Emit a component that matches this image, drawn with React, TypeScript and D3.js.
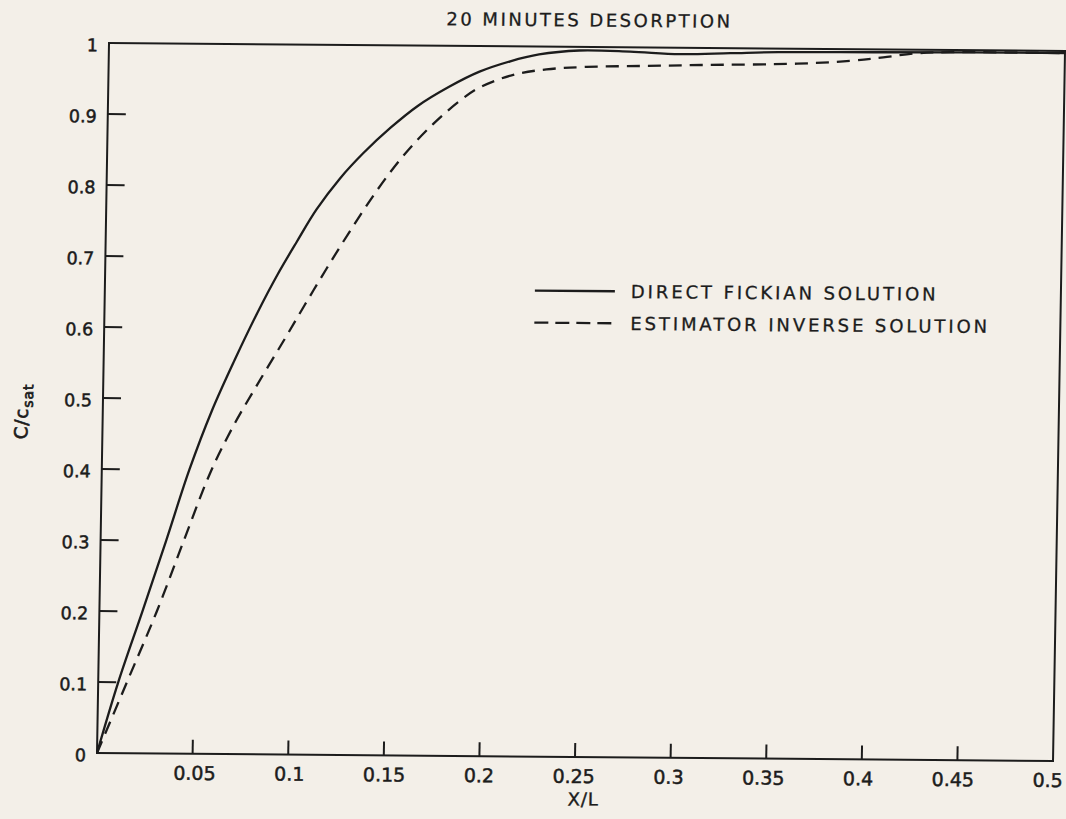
import React, { useRef, useEffect } from "react";
import * as d3 from "d3";

// chart values
const title = "20 MINUTES DESORPTION";
const xTickValues = [0.05, 0.1, 0.15, 0.2, 0.25, 0.3, 0.35, 0.4, 0.45, 0.5];
const xTickLabels = ["0.05", "0.1", "0.15", "0.2", "0.25", "0.3", "0.35", "0.4", "0.45", "0.5"];
const yTickValues = [0, 0.1, 0.2, 0.3, 0.4, 0.5, 0.6, 0.7, 0.8, 0.9, 1];
const yTickLabels = ["0", "0.1", "0.2", "0.3", "0.4", "0.5", "0.6", "0.7", "0.8", "0.9", "1"];

// direct fickian solution
const fickX = [0, 0.0105, 0.0225, 0.0343, 0.0458, 0.057, 0.0685, 0.08, 0.09, 0.0999, 0.11, 0.122, 0.134, 0.148, 0.162, 0.178, 0.194, 0.21, 0.225, 0.246, 0.2725, 0.2986, 0.325, 0.35, 0.4, 0.45, 0.5];
const fickY = [0, 0.1, 0.2, 0.3, 0.4, 0.483, 0.555, 0.622, 0.675, 0.722, 0.768, 0.812, 0.848, 0.884, 0.915, 0.942, 0.964, 0.979, 0.989, 0.995, 0.994, 0.991, 0.993, 0.995, 0.996, 0.997, 0.997];

// estimator inverse solution
const estX = [0, 0.015, 0.03, 0.0435, 0.0566, 0.068, 0.08, 0.0938, 0.1048, 0.1158, 0.1277, 0.1413, 0.155, 0.1703, 0.185, 0.1944, 0.2117, 0.229, 0.25, 0.28, 0.31, 0.36, 0.3876, 0.405, 0.4226, 0.44, 0.5];
const estY = [0, 0.1, 0.2, 0.3, 0.395, 0.46, 0.518, 0.582, 0.634, 0.685, 0.738, 0.795, 0.845, 0.89, 0.925, 0.942, 0.96, 0.968, 0.972, 0.974, 0.976, 0.979, 0.9835, 0.989, 0.995, 0.997, 0.997];

const legendLabels = ["DIRECT FICKIAN SOLUTION", "ESTIMATOR INVERSE SOLUTION"];

const App = () => {
  const ref = useRef(null);

  useEffect(() => {
    const svg = d3.select(ref.current);
    svg.selectAll("*").remove();

    const ink = "#1c1c1c";
    const font = "'DejaVu Sans', sans-serif";

    svg.append("rect").attr("width", 1066).attr("height", 819).attr("fill", "#f3efe8");

    // the scan is slightly sheared, so the whole drawing sits in a skewed group
    const g = svg.append("g").attr("transform", "matrix(1,0.00837,-0.0169,1,12.73,-0.81)");

    const x = d3.scaleLinear().domain([0, 0.5]).range([97, 1053]);
    const y = d3.scaleLinear().domain([0, 1]).range([753, 43]);

    // frame
    g.append("rect")
      .attr("x", x(0))
      .attr("y", y(1))
      .attr("width", x(0.5) - x(0))
      .attr("height", y(0) - y(1))
      .attr("fill", "none")
      .attr("stroke", ink)
      .attr("stroke-width", 2);

    // inward ticks
    g.selectAll(".yt")
      .data(yTickValues.filter((d) => d > 0 && d < 1))
      .enter()
      .append("line")
      .attr("x1", x(0))
      .attr("x2", x(0) + 18)
      .attr("y1", (d) => y(d))
      .attr("y2", (d) => y(d))
      .attr("stroke", ink)
      .attr("stroke-width", 2);

    g.selectAll(".xt")
      .data(xTickValues.filter((d) => d < 0.5))
      .enter()
      .append("line")
      .attr("x1", (d) => x(d))
      .attr("x2", (d) => x(d))
      .attr("y1", y(0))
      .attr("y2", y(0) - 14)
      .attr("stroke", ink)
      .attr("stroke-width", 2);

    // tick labels (slightly heavier, like the typed originals)
    g.selectAll(".yl")
      .data(yTickValues)
      .enter()
      .append("text")
      .attr("x", x(0) - 11)
      .attr("y", (d) => y(d) + 8.5)
      .attr("text-anchor", "end")
      .attr("font-family", font)
      .attr("font-size", 17.5)
      .attr("fill", ink)
      .attr("stroke", ink)
      .attr("stroke-width", 0.5)
      .text((d, i) => yTickLabels[i]);

    g.selectAll(".xl")
      .data(xTickValues)
      .enter()
      .append("text")
      .attr("x", (d) => x(d) + 3 - 16 * d)
      .attr("y", y(0) + 26)
      .attr("text-anchor", "middle")
      .attr("font-family", font)
      .attr("font-size", 19)
      .attr("fill", ink)
      .attr("stroke", ink)
      .attr("stroke-width", 0.5)
      .text((d, i) => xTickLabels[i]);

    // title and axis names
    g.append("text")
      .attr("x", 577)
      .attr("y", 22.5)
      .attr("text-anchor", "middle")
      .attr("font-family", font)
      .attr("font-size", 18)
      .attr("letter-spacing", 2.5)
      .attr("fill", ink)
      .attr("stroke", ink)
      .attr("stroke-width", 0.3)
      .text(title);

    g.append("text")
      .attr("x", 584)
      .attr("y", 801.5)
      .attr("text-anchor", "middle")
      .attr("font-family", font)
      .attr("font-size", 18)
      .attr("letter-spacing", 1)
      .attr("fill", ink)
      .attr("stroke", ink)
      .attr("stroke-width", 0.4)
      .text("X/L");

    const yName = g
      .append("text")
      .attr("transform", "translate(22,412) rotate(-90)")
      .attr("text-anchor", "middle")
      .attr("font-family", font)
      .attr("font-size", 18)
      .attr("fill", ink)
      .attr("stroke", ink)
      .attr("stroke-width", 0.7)
      .attr("letter-spacing", 1);
    yName.append("tspan").text("C/c");
    yName.append("tspan").attr("font-size", 14).attr("dy", 5).text("sat");

    // curves
    const line = d3
      .line<[number, number]>()
      .x((d) => x(d[0]))
      .y((d) => y(d[1]))
      .curve(d3.curveCatmullRom.alpha(0.5));

    const fick = fickX.map((v, i) => [v, fickY[i]] as [number, number]);
    const est = estX.map((v, i) => [v, estY[i]] as [number, number]);

    g.append("path")
      .attr("d", line(fick))
      .attr("fill", "none")
      .attr("stroke", ink)
      .attr("stroke-width", 2.3);

    g.append("path")
      .attr("d", line(est))
      .attr("fill", "none")
      .attr("stroke", ink)
      .attr("stroke-width", 2.3)
      .attr("stroke-dasharray", "13,8");

    // legend
    const legend = g.append("g");
    legendLabels.forEach((label, i) => {
      const ly = 287 + i * 32;
      legend
        .append("line")
        .attr("x1", 527)
        .attr("x2", 607)
        .attr("y1", ly)
        .attr("y2", ly)
        .attr("stroke", ink)
        .attr("stroke-width", 2.3)
        .attr("stroke-dasharray", i === 0 ? null : "14,7");
      legend
        .append("text")
        .attr("x", 623)
        .attr("y", ly + 6.6)
        .attr("font-family", font)
        .attr("font-size", 18)
        .attr("letter-spacing", 2.9)
        .attr("fill", ink)
        .attr("stroke", ink)
        .attr("stroke-width", 0.3)
        .text(label);
    });
  }, []);

  return (
    <svg
      ref={ref}
      width={1066}
      height={819}
      style={{ position: "absolute", left: 0, top: 0, display: "block" }}
    ></svg>
  );
};

export default App;
